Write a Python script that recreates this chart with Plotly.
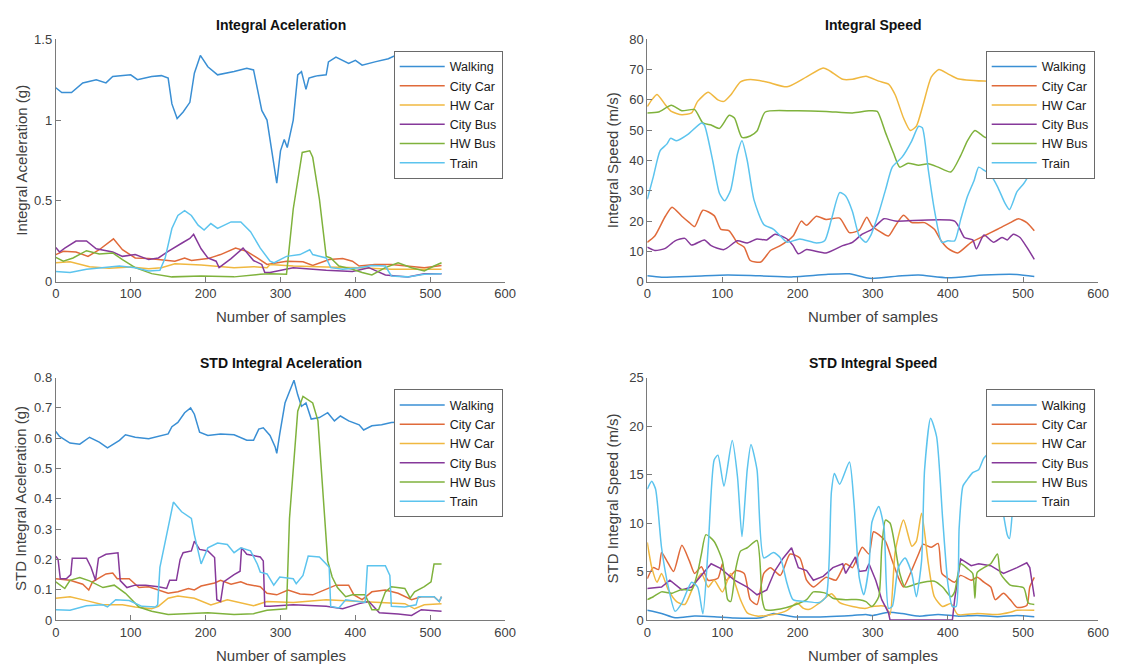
import plotly.graph_objects as go

SERIES = ["Walking", "City Car", "HW Car", "City Bus", "HW Bus", "Train"]
COLORS = ["#3a8fd4", "#e06a3a", "#f0b840", "#86399a", "#7fb23c", "#5cc4ee"]

TITLES = ["Integral Aceleration", "Integral Speed", "STD Integral Aceleration", "STD Integral Speed"]
YLABELS = ["Integral Aceleration (g)", "Integral Speed (m/s)", "STD Integral Aceleration (g)", "STD Integral Speed (m/s)"]
XLABEL = "Number of samples"
X_TICKS = [0, 100, 200, 300, 400, 500, 600]
Y_RANGES = [[0, 1.5], [0, 80], [0, 0.8], [0, 25]]
Y_DTICKS = [0.5, 10, 0.1, 5]

# ---------------- Integral Aceleration ----------------
ACC_WALK_X = [0, 8, 21, 36, 54, 67, 76, 100, 109, 128, 141, 150, 155, 162, 170, 179, 185, 193, 203, 216, 238, 255, 264, 275, 282, 288, 295, 300, 305, 309, 317, 323, 328, 334, 338, 345, 350, 361, 364, 374, 391, 400, 409, 426, 444, 451, 470, 490, 515]
ACC_WALK_Y = [1.20, 1.17, 1.17, 1.23, 1.25, 1.23, 1.27, 1.28, 1.25, 1.27, 1.275, 1.26, 1.10, 1.01, 1.05, 1.11, 1.29, 1.40, 1.33, 1.28, 1.30, 1.32, 1.31, 1.06, 1.00, 0.83, 0.61, 0.81, 0.88, 0.83, 1.00, 1.28, 1.30, 1.19, 1.26, 1.27, 1.275, 1.28, 1.36, 1.39, 1.35, 1.37, 1.34, 1.36, 1.38, 1.395, 1.40, 1.40, 1.40]
ACC_CCAR_X = [0, 10, 27, 43, 58, 77, 89, 106, 124, 141, 159, 172, 181, 203, 220, 240, 255, 269, 282, 308, 330, 343, 365, 383, 396, 405, 426, 448, 470, 492, 515]
ACC_CCAR_Y = [0.168, 0.188, 0.184, 0.157, 0.198, 0.265, 0.198, 0.147, 0.143, 0.137, 0.127, 0.147, 0.131, 0.143, 0.168, 0.208, 0.188, 0.147, 0.107, 0.127, 0.123, 0.100, 0.137, 0.143, 0.127, 0.097, 0.107, 0.107, 0.097, 0.087, 0.100]
ACC_HCAR_X = [0, 19, 45, 71, 100, 124, 141, 159, 194, 238, 264, 282, 286, 317, 361, 405, 448, 515]
ACC_HCAR_Y = [0.117, 0.123, 0.093, 0.083, 0.091, 0.081, 0.087, 0.111, 0.103, 0.087, 0.093, 0.087, 0.107, 0.097, 0.091, 0.087, 0.077, 0.077]
ACC_CBUS_X = [0, 5, 12, 27, 41, 54, 76, 89, 106, 124, 137, 150, 168, 179, 184, 194, 203, 214, 218, 234, 250, 264, 275, 279, 286, 317, 361, 396, 418, 440, 470, 492, 515]
ACC_CBUS_Y = [0.212, 0.184, 0.208, 0.252, 0.252, 0.204, 0.184, 0.157, 0.168, 0.137, 0.147, 0.188, 0.238, 0.268, 0.293, 0.204, 0.147, 0.127, 0.087, 0.143, 0.208, 0.131, 0.107, 0.057, 0.057, 0.087, 0.071, 0.063, 0.087, 0.042, 0.030, 0.050, 0.050]
ACC_HBUS_X = [0, 10, 23, 41, 58, 76, 89, 106, 128, 155, 194, 238, 273, 286, 308, 317, 329, 339, 343, 352, 361, 367, 378, 396, 409, 422, 440, 457, 475, 492, 505, 515]
ACC_HBUS_Y = [0.151, 0.127, 0.147, 0.192, 0.172, 0.178, 0.137, 0.087, 0.050, 0.030, 0.036, 0.030, 0.046, 0.050, 0.046, 0.45, 0.80, 0.81, 0.77, 0.51, 0.157, 0.147, 0.097, 0.077, 0.057, 0.042, 0.087, 0.117, 0.087, 0.067, 0.097, 0.117]
ACC_TRAIN_X = [0, 19, 41, 63, 85, 106, 124, 139, 146, 155, 163, 172, 181, 190, 198, 207, 216, 234, 247, 260, 273, 286, 291, 308, 326, 339, 343, 361, 367, 383, 405, 422, 440, 448, 470, 492, 515]
ACC_TRAIN_Y = [0.063, 0.057, 0.077, 0.087, 0.097, 0.087, 0.067, 0.071, 0.147, 0.329, 0.41, 0.44, 0.41, 0.35, 0.32, 0.36, 0.33, 0.37, 0.37, 0.31, 0.208, 0.127, 0.117, 0.157, 0.168, 0.198, 0.168, 0.147, 0.087, 0.077, 0.087, 0.100, 0.097, 0.036, 0.030, 0.046, 0.050]

# ---------------- Integral Speed ----------------
SPD_WALK_X = [0, 19, 63, 107, 150, 194, 238, 269, 291, 300, 339, 361, 400, 448, 492, 515]
SPD_WALK_Y = [1.95, 1.5, 1.8, 2.2, 1.95, 1.6, 2.4, 2.6, 1.3, 1.1, 1.95, 2.2, 1.3, 2.2, 2.4, 1.7]
SPD_CCAR_X = [0, 10, 24, 33, 46, 56, 63, 74, 89, 98, 109, 120, 129, 137, 151, 164, 177, 194, 205, 212, 225, 238, 256, 269, 282, 292, 299, 308, 321, 330, 341, 352, 369, 382, 391, 400, 413, 431, 448, 466, 483, 494, 505, 515]
SPD_CCAR_Y = [13, 15.1, 21.6, 24.6, 21.6, 19.5, 18.2, 23.6, 21.8, 17.3, 16.8, 12.8, 11.4, 7.0, 6.5, 10.3, 11.9, 15.1, 20, 18.6, 21.6, 20.5, 21, 16.2, 17, 21.3, 18.4, 16.8, 15.1, 18.4, 21.9, 19.5, 19.5, 17.3, 13.5, 11, 9.5, 13, 15.1, 17.3, 19.5, 20.8, 19.5, 16.8]
SPD_HCAR_X = [0, 6, 13, 24, 32, 46, 59, 67, 81, 94, 102, 111, 124, 137, 159, 186, 212, 234, 242, 260, 273, 291, 308, 321, 330, 341, 350, 358, 367, 378, 388, 400, 413, 448, 480, 515]
SPD_HCAR_Y = [57.8, 60, 61.8, 58.4, 56.2, 55.1, 55.7, 59.5, 62.5, 60, 59.5, 61.6, 65.9, 66.7, 65.9, 64.3, 67.6, 70.5, 69.7, 66.8, 66.8, 67.8, 66.2, 65.2, 61.6, 54, 49.9, 51.3, 58.4, 67.6, 70, 68.6, 67, 66.2, 66, 65.5]
SPD_CBUS_X = [0, 10, 24, 37, 50, 59, 76, 85, 102, 120, 133, 146, 159, 170, 186, 194, 201, 212, 238, 260, 273, 286, 299, 315, 330, 409, 422, 433, 438, 448, 461, 472, 479, 487, 496, 505, 515]
SPD_CBUS_Y = [11.4, 10.3, 11, 13.5, 14.3, 12.1, 13.8, 11.9, 10.6, 13.5, 12.8, 14.1, 13.8, 15.7, 14.1, 11.9, 9.2, 10.6, 9.5, 11.9, 13, 15.7, 17.3, 20.8, 20, 20, 14.6, 13.8, 10.8, 15.4, 13, 14.6, 13.8, 15.7, 14.6, 11.4, 7.4]
SPD_HBUS_X = [0, 15, 32, 46, 63, 74, 85, 96, 109, 116, 126, 137, 146, 157, 194, 238, 273, 295, 306, 317, 328, 336, 347, 361, 374, 387, 404, 417, 426, 436, 444, 450, 480, 515]
SPD_HBUS_Y = [55.7, 56, 58.2, 56.4, 56.8, 52.4, 51.7, 50.6, 54.9, 54, 47.6, 48.1, 49.7, 56, 56.4, 56.2, 55.7, 56.4, 56.2, 49.2, 42.2, 37.8, 39.1, 38.4, 38.9, 37.8, 36.2, 41.6, 46.5, 49.9, 48.6, 47.6, 47, 46]
SPD_TRAIN_X = [0, 8, 17, 26, 31, 39, 54, 72, 76, 87, 96, 103, 111, 120, 126, 133, 142, 155, 168, 177, 186, 203, 225, 236, 245, 256, 264, 273, 282, 291, 297, 308, 317, 326, 339, 352, 361, 366, 374, 382, 392, 400, 409, 417, 426, 435, 441, 448, 457, 466, 476, 482, 492, 501, 509, 515]
SPD_TRAIN_Y = [27.2, 34.6, 43.2, 45.4, 47.3, 46.5, 48.6, 52.4, 51.7, 40, 29.2, 26.7, 30.3, 42.2, 46.5, 40, 27, 18.9, 17.3, 15.1, 13, 14.1, 12.8, 13.5, 20.5, 29.4, 28.3, 23.2, 15.1, 13, 15.1, 22.7, 30.3, 37.8, 41.1, 46.5, 51.3, 50.8, 36.8, 23.8, 13, 13.5, 13.5, 20.5, 28.1, 33.5, 37.8, 36.8, 35.1, 31.4, 25.9, 23.8, 29.7, 32.4, 35.7, 38.4]

# ---------------- STD Integral Aceleration ----------------
SACC_WALK_X = [0, 5, 19, 32, 45, 58, 69, 85, 93, 106, 124, 141, 150, 155, 163, 172, 180, 185, 192, 203, 220, 238, 255, 264, 271, 277, 286, 293, 295, 299, 306, 312, 318, 323, 328, 334, 341, 352, 363, 372, 380, 391, 405, 411, 422, 435, 448, 480, 515]
SACC_WALK_Y = [0.622, 0.606, 0.584, 0.58, 0.603, 0.587, 0.568, 0.593, 0.611, 0.603, 0.598, 0.609, 0.614, 0.638, 0.652, 0.684, 0.70, 0.679, 0.62, 0.609, 0.614, 0.611, 0.593, 0.593, 0.63, 0.634, 0.609, 0.57, 0.55, 0.614, 0.716, 0.754, 0.791, 0.743, 0.705, 0.716, 0.663, 0.668, 0.684, 0.657, 0.673, 0.657, 0.644, 0.627, 0.641, 0.644, 0.652, 0.655, 0.66]
SACC_CCAR_X = [0, 10, 19, 36, 44, 49, 67, 76, 82, 98, 111, 124, 137, 150, 163, 177, 185, 194, 212, 220, 234, 247, 255, 273, 282, 295, 310, 326, 343, 363, 374, 391, 398, 409, 422, 440, 457, 475, 488, 505, 512, 515]
SACC_CCAR_Y = [0.136, 0.133, 0.131, 0.118, 0.099, 0.126, 0.152, 0.155, 0.136, 0.136, 0.107, 0.11, 0.099, 0.088, 0.093, 0.104, 0.099, 0.112, 0.122, 0.131, 0.118, 0.126, 0.118, 0.11, 0.088, 0.083, 0.099, 0.086, 0.083, 0.104, 0.115, 0.115, 0.083, 0.067, 0.093, 0.099, 0.088, 0.067, 0.077, 0.077, 0.061, 0.077]
SACC_HCAR_X = [0, 19, 41, 63, 89, 106, 128, 137, 150, 163, 185, 207, 229, 247, 264, 282, 317, 361, 405, 440, 466, 479, 492, 515]
SACC_HCAR_Y = [0.072, 0.077, 0.064, 0.05, 0.05, 0.043, 0.037, 0.045, 0.072, 0.079, 0.072, 0.05, 0.067, 0.058, 0.047, 0.061, 0.058, 0.067, 0.061, 0.058, 0.054, 0.037, 0.05, 0.054]
SACC_CBUS_X = [0, 3, 6, 14, 20, 22, 41, 47, 53, 55, 57, 67, 83, 86, 95, 106, 120, 137, 148, 152, 161, 166, 170, 181, 185, 192, 203, 212, 215, 220, 224, 238, 246, 248, 255, 273, 277, 279, 286, 317, 361, 383, 405, 418, 432, 457, 475, 488, 515]
SACC_CBUS_Y = [0.211, 0.20, 0.136, 0.136, 0.15, 0.204, 0.204, 0.174, 0.131, 0.17, 0.204, 0.217, 0.222, 0.13, 0.107, 0.115, 0.115, 0.11, 0.104, 0.131, 0.131, 0.20, 0.222, 0.228, 0.26, 0.233, 0.228, 0.206, 0.067, 0.061, 0.126, 0.15, 0.161, 0.238, 0.217, 0.208, 0.195, 0.045, 0.045, 0.05, 0.045, 0.037, 0.054, 0.061, 0.024, 0.02, 0.015, 0.034, 0.029]
SACC_HBUS_X = [0, 12, 19, 32, 45, 63, 78, 93, 111, 128, 150, 177, 203, 238, 264, 282, 308, 312, 317, 323, 330, 343, 350, 356, 363, 369, 376, 387, 396, 413, 422, 431, 440, 448, 466, 473, 479, 492, 501, 505, 515]
SACC_HBUS_Y = [0.126, 0.104, 0.131, 0.14, 0.129, 0.107, 0.115, 0.088, 0.043, 0.029, 0.018, 0.02, 0.024, 0.018, 0.021, 0.032, 0.037, 0.335, 0.496, 0.689, 0.738, 0.716, 0.657, 0.442, 0.195, 0.142, 0.107, 0.077, 0.083, 0.083, 0.034, 0.034, 0.093, 0.11, 0.104, 0.072, 0.093, 0.11, 0.126, 0.185, 0.185]
SACC_TRAIN_X = [0, 19, 41, 63, 69, 80, 98, 115, 133, 136, 139, 150, 157, 168, 181, 185, 194, 203, 216, 229, 238, 247, 260, 269, 273, 282, 291, 299, 317, 321, 330, 337, 352, 361, 365, 367, 378, 387, 405, 413, 416, 440, 446, 448, 466, 481, 484, 505, 512, 515]
SACC_TRAIN_Y = [0.034, 0.032, 0.047, 0.05, 0.043, 0.067, 0.064, 0.045, 0.043, 0.05, 0.174, 0.303, 0.389, 0.357, 0.335, 0.281, 0.185, 0.238, 0.254, 0.249, 0.222, 0.238, 0.228, 0.185, 0.158, 0.152, 0.115, 0.142, 0.136, 0.12, 0.147, 0.211, 0.208, 0.185, 0.174, 0.045, 0.04, 0.067, 0.061, 0.058, 0.179, 0.179, 0.147, 0.045, 0.043, 0.05, 0.077, 0.077, 0.061, 0.077]

# ---------------- STD Integral Speed ----------------
SSPD_WALK_X = [0, 19, 37, 63, 89, 116, 151, 168, 194, 238, 273, 291, 299, 321, 339, 361, 387, 413, 439, 466, 492, 515]
SSPD_WALK_Y = [1.0, 0.67, 0.23, 0.4, 0.34, 0.2, 0.23, 0.67, 0.34, 0.34, 0.47, 0.57, 0.47, 0.8, 0.67, 0.4, 0.57, 0.4, 0.47, 0.34, 0.47, 0.34]
SSPD_CCAR_X = [0, 8, 15, 19, 26, 35, 46, 56, 63, 72, 81, 94, 100, 105, 118, 129, 137, 146, 155, 164, 177, 190, 203, 212, 221, 238, 251, 264, 273, 286, 295, 301, 308, 317, 326, 334, 341, 350, 361, 367, 378, 387, 392, 400, 409, 417, 431, 439, 448, 457, 463, 474, 483, 492, 505, 509, 515]
SSPD_CCAR_Y = [4.26, 5.4, 5.2, 6.95, 6.1, 5.0, 7.7, 6.1, 4.8, 5.5, 4.1, 4.3, 5.8, 4.1, 5.1, 4.8, 2.1, 1.6, 4.8, 5.4, 4.6, 6.8, 6.4, 4.1, 3.4, 4.4, 4.1, 5.8, 5.4, 7.5, 6.8, 9.1, 8.8, 8.1, 6.1, 4.4, 3.4, 4.8, 6.8, 7.8, 7.5, 7.9, 4.8, 4.3, 3.9, 4.6, 4.1, 4.4, 3.9, 3.4, 2.1, 2.75, 2.1, 1.3, 1.5, 3.4, 4.4]
SSPD_HCAR_X = [0, 6, 13, 19, 28, 39, 50, 61, 72, 81, 89, 100, 111, 124, 133, 146, 168, 186, 199, 208, 216, 229, 245, 256, 273, 291, 299, 317, 323, 330, 341, 352, 358, 365, 374, 382, 393, 404, 413, 439, 466, 483, 492, 515]
SSPD_HCAR_Y = [8.0, 5.4, 3.9, 4.8, 3.1, 1.9, 1.6, 3.4, 4.8, 3.4, 4.1, 2.9, 4.8, 2.1, 0.74, 0.4, 0.57, 1.0, 1.75, 1.2, 1.1, 1.75, 2.7, 1.8, 1.4, 1.2, 1.4, 1.4, 0.57, 7.1, 10.3, 7.6, 8.1, 11.0, 5.8, 2.4, 1.4, 1.7, 0.57, 0.67, 0.57, 0.8, 1.0, 1.0]
SSPD_CBUS_X = [0, 19, 30, 46, 59, 72, 85, 98, 116, 133, 146, 159, 170, 181, 192, 201, 212, 221, 234, 247, 260, 264, 277, 282, 291, 295, 304, 312, 321, 323, 406, 409, 417, 431, 441, 457, 474, 492, 505, 509, 515]
SSPD_CBUS_Y = [3.26, 3.4, 4.1, 3.1, 3.4, 4.6, 5.8, 5.3, 4.1, 3.4, 2.6, 3.1, 5.1, 6.4, 7.45, 5.4, 5.1, 4.1, 4.5, 5.4, 5.8, 4.8, 6.5, 5.0, 5.1, 5.8, 4.1, 2.1, 0.74, 0, 0, 2.1, 6.3, 5.6, 5.8, 5.6, 4.8, 5.4, 5.9, 5.4, 2.4]
SSPD_HBUS_X = [0, 8, 19, 32, 46, 59, 67, 72, 78, 89, 100, 107, 111, 118, 124, 133, 146, 153, 157, 177, 194, 212, 221, 238, 247, 264, 282, 291, 299, 308, 312, 317, 323, 330, 336, 343, 361, 382, 393, 404, 409, 417, 426, 433, 436, 439, 448, 457, 466, 470, 483, 501, 507, 515]
SSPD_HBUS_Y = [2.1, 2.4, 2.9, 2.75, 3.15, 3.1, 4.9, 6.8, 8.8, 8.1, 6.1, 2.1, 1.9, 5.4, 7.1, 7.45, 8.2, 2.1, 1.07, 1.14, 1.5, 2.1, 2.9, 2.75, 2.25, 2.1, 2.1, 1.9, 1.4, 2.4, 7.45, 10.3, 10.0, 7.45, 4.8, 3.4, 3.8, 4.0, 3.4, 2.4, 2.9, 5.8, 5.3, 4.8, 2.25, 4.9, 5.4, 5.8, 6.8, 4.8, 3.6, 3.3, 1.75, 1.6]
SSPD_TRAIN_X = [0, 6, 11, 19, 28, 37, 46, 59, 67, 74, 81, 89, 94, 102, 113, 120, 126, 133, 138, 146, 155, 168, 177, 186, 194, 212, 229, 238, 245, 249, 256, 269, 275, 282, 288, 295, 299, 308, 315, 321, 326, 334, 343, 352, 358, 365, 369, 377, 385, 393, 400, 406, 411, 415, 420, 426, 433, 441, 448, 460, 470, 479, 482, 487, 496, 505, 515]
SSPD_TRAIN_Y = [13.5, 14.3, 13.5, 7.45, 3.4, 0.9, 1.75, 3.9, 3.4, 0.64, 7.45, 16.5, 17.0, 13.8, 18.5, 14.8, 8.6, 15.5, 18.1, 15.5, 6.4, 6.95, 6.4, 3.76, 2.1, 1.9, 1.8, 2.4, 13.2, 15.1, 14.0, 16.3, 12.1, 4.4, 2.6, 5.5, 10.1, 11.7, 9.5, 1.2, 1.4, 5.4, 6.4, 4.8, 2.4, 6.1, 15.5, 20.8, 18.9, 10.5, 3.76, 1.4, 1.4, 9.5, 13.8, 14.5, 15.2, 15.5, 16.7, 17.5, 12.8, 8.8, 8.4, 12.1, 16, 15, 12.5]

PANELS = [
    [(ACC_WALK_X, ACC_WALK_Y), (ACC_CCAR_X, ACC_CCAR_Y), (ACC_HCAR_X, ACC_HCAR_Y),
     (ACC_CBUS_X, ACC_CBUS_Y), (ACC_HBUS_X, ACC_HBUS_Y), (ACC_TRAIN_X, ACC_TRAIN_Y)],
    [(SPD_WALK_X, SPD_WALK_Y), (SPD_CCAR_X, SPD_CCAR_Y), (SPD_HCAR_X, SPD_HCAR_Y),
     (SPD_CBUS_X, SPD_CBUS_Y), (SPD_HBUS_X, SPD_HBUS_Y), (SPD_TRAIN_X, SPD_TRAIN_Y)],
    [(SACC_WALK_X, SACC_WALK_Y), (SACC_CCAR_X, SACC_CCAR_Y), (SACC_HCAR_X, SACC_HCAR_Y),
     (SACC_CBUS_X, SACC_CBUS_Y), (SACC_HBUS_X, SACC_HBUS_Y), (SACC_TRAIN_X, SACC_TRAIN_Y)],
    [(SSPD_WALK_X, SSPD_WALK_Y), (SSPD_CCAR_X, SSPD_CCAR_Y), (SSPD_HCAR_X, SSPD_HCAR_Y),
     (SSPD_CBUS_X, SSPD_CBUS_Y), (SSPD_HBUS_X, SSPD_HBUS_Y), (SSPD_TRAIN_X, SSPD_TRAIN_Y)],
]
SMOOTH_PANEL = [False, True, False, True]

W, H = 1122, 672
FONT = "Liberation Sans, Arial, Helvetica, sans-serif"
AXC = "#7a7a7a"
TXT = "#404040"

# plot boxes in pixels: (left, right, top, bottom)
BOXES = [(52.5, 508, 33, 281), (652, 1109, 33, 281), (52.5, 508, 379, 627), (652, 1109, 379, 627)]
LEGEND_POS = [(395, 45), (995, 45), (395, 391), (995, 391)]

fig = go.Figure()
layout = dict(width=W, height=H, margin=dict(l=0, r=0, t=0, b=0),
              paper_bgcolor="white", plot_bgcolor="white",
              font=dict(family=FONT, color=TXT), annotations=[])

for p in range(4):
    sfx = "" if p == 0 else str(p + 1)
    lg = "legend" if p == 0 else "legend" + str(p + 1)
    for s in range(6):
        xs, ys = PANELS[p][s]
        line = dict(color=COLORS[s], width=1.5)
        if SMOOTH_PANEL[p] and not (p == 3 and s == 3):
            line.update(shape="spline", smoothing=0.6)
        fig.add_trace(go.Scatter(x=xs, y=ys, mode="lines", name=SERIES[s], line=line,
                                 xaxis="x" + sfx, yaxis="y" + sfx, legend=lg,
                                 hoverinfo="skip"))
    l, r, t, b = BOXES[p]
    axis_common = dict(showline=True, linecolor=AXC, linewidth=1, ticks="inside", ticklen=5,
                       tickcolor=AXC, showgrid=False, zeroline=False,
                       tickfont=dict(size=13, color=TXT, family=FONT))
    layout["xaxis" + sfx] = dict(domain=[l / W, r / W], anchor="y" + sfx, range=[0, 600],
                                 tickvals=X_TICKS, **axis_common)
    layout["yaxis" + sfx] = dict(domain=[1 - b / H, 1 - t / H], anchor="x" + sfx,
                                 range=Y_RANGES[p], dtick=Y_DTICKS[p], tick0=0, **axis_common)
    lx, ly = LEGEND_POS[p]
    layout[lg] = dict(x=lx / W, y=1 - ly / H, xanchor="left", yanchor="top",
                      bgcolor="white", bordercolor="#6a6a6a", borderwidth=1,
                      font=dict(size=12.5, color="#1a1a1a", family=FONT),
                      tracegroupgap=0, itemwidth=45)
    cx = (l + r) / 2
    layout["annotations"].append(dict(text="<b>" + TITLES[p] + "</b>", x=cx / W, y=1 - (t - 15) / H,
                                      xref="paper", yref="paper", xanchor="center", yanchor="middle",
                                      showarrow=False, font=dict(size=14, color="#111111", family=FONT)))
    layout["annotations"].append(dict(text=XLABEL, x=cx / W, y=1 - (b + 36) / H,
                                      xref="paper", yref="paper", xanchor="center", yanchor="middle",
                                      showarrow=False, font=dict(size=15, color=TXT, family=FONT)))
    layout["annotations"].append(dict(text=YLABELS[p], x=(l - 35) / W, y=1 - ((t + b) / 2) / H,
                                      xref="paper", yref="paper", xanchor="center", yanchor="middle",
                                      showarrow=False, textangle=-90,
                                      font=dict(size=15, color=TXT, family=FONT)))

fig.update_layout(**layout)
fig.write_html("out.html")
